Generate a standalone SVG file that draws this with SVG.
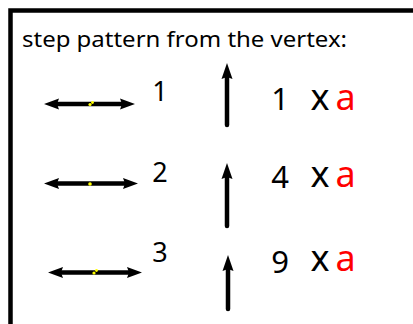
<svg xmlns="http://www.w3.org/2000/svg" width="413" height="324" viewBox="0 0 413 324">
<style>
.t{font-family:"Noto Sans","Open Sans",sans-serif;fill:#000}
.n{font-size:27px;text-anchor:middle}
.m{font-size:31px;text-anchor:middle}
.x{font-size:36px;text-anchor:middle}
.a{font-size:36px;text-anchor:middle;fill:#ff0000}
.sh{stroke:#000;stroke-width:4.5;stroke-linecap:round;fill:none}
.hd{fill:#000}
.y{fill:#ffff00}
</style>
<rect width="413" height="324" fill="#fff"/>
<rect id="frame" x="10.5" y="10.5" width="420" height="330" fill="none" stroke="#000" stroke-width="4.5"/>
<g id="title"><text class="t" x="22" y="47" font-size="21" textLength="325" lengthAdjust="spacingAndGlyphs">step pattern from the vertex:</text></g>
<g id="connectors">
<g id="h1">
<line class="sh" x1="56" y1="104" x2="123" y2="104"/>
<polygon class="hd" points="44,104 59,98.5 57,104 59,109.5"/>
<polygon class="hd" points="135,104 120,98.5 122,104 120,109.5"/>
<circle class="y" cx="90" cy="104.5" r="1.6"/><circle class="y" cx="92.5" cy="102.5" r="1.4"/>
</g>
<g id="h2">
<line class="sh" x1="56" y1="183.5" x2="126" y2="183.5"/>
<polygon class="hd" points="44,183.5 59,178 57,183.5 59,189"/>
<polygon class="hd" points="138,183.5 123,178 125,183.5 123,189"/>
<circle class="y" cx="90" cy="184" r="1.8"/>
</g>
<g id="h3">
<line class="sh" x1="60" y1="272.5" x2="130" y2="272.5"/>
<polygon class="hd" points="48,272.5 63,267 61,272.5 63,278"/>
<polygon class="hd" points="142,272.5 127,267 129,272.5 127,278"/>
<circle class="y" cx="94" cy="273" r="1.6"/><circle class="y" cx="96.5" cy="270.5" r="1.4"/>
</g>
<g id="v1">
<line class="sh" x1="227" y1="125" x2="227" y2="76"/>
<polygon class="hd" points="227,63 232.5,79 227,77 221.5,79"/>
</g>
<g id="v2">
<line class="sh" x1="227" y1="226" x2="227" y2="176"/>
<polygon class="hd" points="227,163 232.5,179 227,177 221.5,179"/>
</g>
<g id="v3">
<line class="sh" x1="228" y1="309" x2="228" y2="268"/>
<polygon class="hd" points="228,255 233.5,271 228,269 222.5,271"/>
</g>
</g>
<g id="row1">
<text class="t n" x="160" y="101">1</text>
<text class="t m" x="280" y="110">1</text>
<text class="t x" x="320" y="110">x</text>
<text class="t a" x="345.5" y="110">a</text>
</g>
<g id="row2">
<text class="t n" x="160" y="181.5">2</text>
<text class="t m" x="280" y="188">4</text>
<text class="t x" x="320" y="187">x</text>
<text class="t a" x="345.5" y="187">a</text>
</g>
<g id="row3">
<text class="t n" x="160" y="262">3</text>
<text class="t m" x="280" y="272.5">9</text>
<text class="t x" x="320" y="271">x</text>
<text class="t a" x="345.5" y="271">a</text>
</g>
</svg>
